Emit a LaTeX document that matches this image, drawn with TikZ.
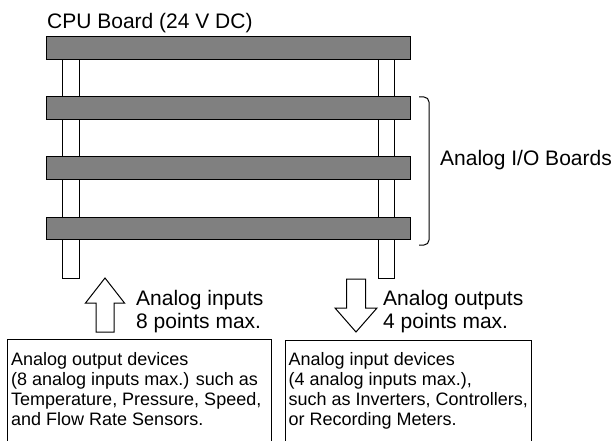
\documentclass[tikz,border=0pt]{standalone}
\usepackage{fontspec}
\setmainfont{Liberation Sans}
\usetikzlibrary{calc}
\tikzset{
  board/.style={draw=black, fill=black!50, line width=1pt},
  pillar/.style={draw=black, fill=white, line width=1pt},
  blockarrow/.style={draw=black, fill=white, line width=1pt, line join=miter},
  lbl/.style={inner sep=0pt, align=left, anchor=base west, font=\fontsize{21}{22.5}\selectfont},
  devtext/.style={inner sep=0pt, align=left, anchor=base west, font=\fontsize{18}{20}\selectfont}
}

\begin{document}
\begin{tikzpicture}[x=1pt, y=-1pt]
			%%%%% START %%%%%
			\useasboundingbox (0, 0) rectangle (616, 441);
			
			\node[lbl] (cpulabel) at (47, 28.5) {CPU Board (24 V DC)};
			
			\draw[pillar] (62, 48) rectangle (79, 278);
			\draw[pillar] (378, 48) rectangle (394, 278);
			
			\draw[board] (46, 37) rectangle (410, 59.5);
			\draw[board] (46, 97) rectangle (410, 119.5);
			\draw[board] (46, 157) rectangle (410, 179.5);
			\draw[board] (46, 217) rectangle (410, 239.5);
			
			\draw[line width=1pt, rounded corners=5pt] (419, 97) -- (429, 97) -- (429, 245) -- (419, 245);
			\node[lbl] (iolabel) at (440, 165) {Analog I/O Boards};
			
			% base anchor of a two-line node sits on its last line
			\draw[blockarrow] (96, 332) -- (96, 303) -- (85.5, 303) -- (105, 278) -- (124.5, 303) -- (114, 303) -- (114, 332) -- cycle;
			\node[lbl] (inlabel) at (136, 328) {Analog inputs\\8 points max.};
			
			\draw[blockarrow] (346.5, 279) -- (346.5, 308) -- (335, 308) -- (356, 332) -- (377, 308) -- (365.5, 308) -- (365.5, 279) -- cycle;
			\node[lbl] (outlabel) at (383, 328) {Analog outputs\\4 points max.};
			
			\draw[line width=1pt] (7, 441) -- (7, 339) -- (271, 339) -- (271, 441);
			\node[devtext] (inbox) at (11, 425) {Analog output devices\\(8 analog inputs max.) such as\\Temperature, Pressure, Speed,\\and Flow Rate Sensors.};
			
			\draw[line width=1pt] (285, 441) -- (285, 340) -- (531, 340) -- (531, 441);
			\node[devtext] (outbox) at (288.5, 425) {Analog input devices\\(4 analog inputs max.),\\such as Inverters, Controllers,\\or Recording Meters.};
			
			%%%%% END %%%%%
\end{tikzpicture}
\end{document}
